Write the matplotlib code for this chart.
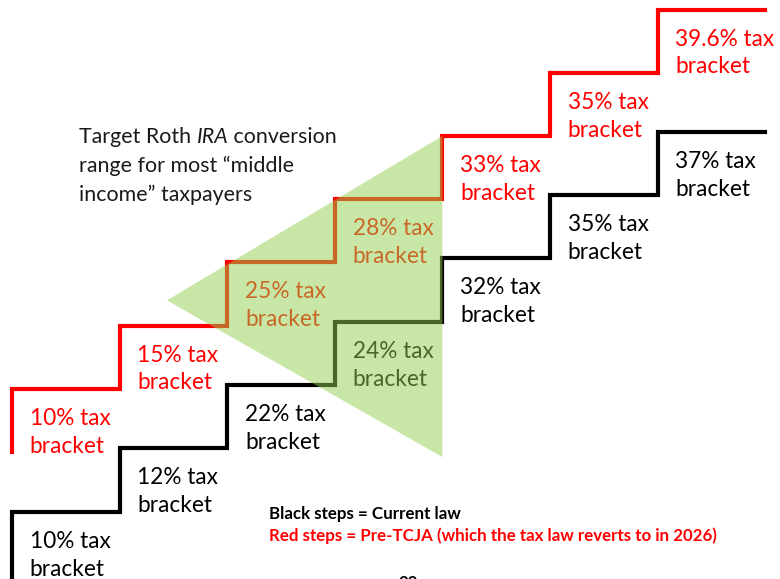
import matplotlib
matplotlib.use("Agg")

import matplotlib.pyplot as plt
import numpy as np
from matplotlib.patches import Polygon

plt.rcParams["font.family"] = ["Lato", "DejaVu Sans"]

# Bracket rates per stair step: pre-TCJA (red) and current law (black)
red_rates = ["10%", "15%", "25%", "28%", "33%", "35%", "39.6%"]
black_rates = ["10%", "12%", "22%", "24%", "32%", "35%", "37%"]

# Height of each step, in stair units (one step up = 1)
red_levels = [1.0, 2.0, 3.0, 4.0, 5.0, 6.0, 7.0]
black_levels = [-0.95, 0.06, 1.06, 2.06, 3.07, 4.07, 5.06]
red_base = 0.0
black_base = -2.3

# Shaded "target conversion range" triangle
range_x = [1.44, 4.0, 4.0]
range_y = [2.40, 5.0, -0.08]

title_lines = ["range for most \u201cmiddle", "income\u201d taxpayers"]
legend_lines = ["Black steps = Current law",
                "Red steps = Pre-TCJA (which the tax law reverts to in 2026)"]

RED = "#ff0000"
BLACK = "#000000"
LABEL_SIZE = 16.3
TITLE_SIZE = 15.4
NOTE_SIZE = 12.2


def stair_xy(levels, base):
    xs, ys = [0], [base]
    for i, lv in enumerate(levels):
        xs += [i, i + 1]
        ys += [lv, lv]
    return np.array(xs), np.array(ys)


fig = plt.figure(figsize=(7.8, 5.79), dpi=100)
ax = fig.add_axes([0, 0, 1, 1])
ax.set_xlim(-0.1115, 7.137)
ax.set_ylim(-2.009, 7.152)
ax.axis("off")

for levels, base, rates, color in [(red_levels, red_base, red_rates, RED),
                                   (black_levels, black_base, black_rates, BLACK)]:
    xs, ys = stair_xy(levels, base)
    ax.plot(xs, ys, color=color, lw=3.0, solid_joinstyle="miter", zorder=2)
    for i, (lv, rate) in enumerate(zip(levels, rates)):
        ax.text(i + 0.165, lv - 0.57, f"{rate} tax", color=color,
                fontsize=LABEL_SIZE, va="baseline", ha="left", zorder=2)
        ax.text(i + 0.165, lv - 1.01, "bracket", color=color,
                fontsize=LABEL_SIZE, va="baseline", ha="left", zorder=2)

ax.add_patch(Polygon(np.column_stack([range_x, range_y]), closed=True,
                     facecolor="#92d050", edgecolor="none", alpha=0.5, zorder=3))

# Title, with "IRA" set in italics
fig.canvas.draw()
x0, y0 = 0.623, 4.89
title_color = "#1a1a1a"
t = ax.text(x0, y0, "Target Roth ", fontsize=TITLE_SIZE, color=title_color,
            va="baseline", ha="left", zorder=4)
for piece, style in [("IRA", "italic"), (" conversion", "normal")]:
    t = ax.annotate(piece, xy=(1, 0), xycoords=t, fontsize=TITLE_SIZE,
                    color=title_color, style=style, va="bottom", ha="left",
                    zorder=4)
for k, line in enumerate(title_lines):
    ax.text(x0, y0 - 0.46 * (k + 1), line, fontsize=TITLE_SIZE,
            color=title_color, va="baseline", ha="left", zorder=4)

ax.text(2.39, -1.06, legend_lines[0], fontsize=NOTE_SIZE, fontweight="bold",
        color=BLACK, va="baseline", ha="left", zorder=4)
ax.text(2.39, -1.41, legend_lines[1], fontsize=NOTE_SIZE, fontweight="bold",
        color=RED, va="baseline", ha="left", zorder=4)

# slide number, running off the bottom edge
ax.text(3.59, -1.95, "28", fontsize=NOTE_SIZE, fontweight="bold", color=BLACK,
        va="top", ha="left", zorder=4)

fig.savefig("out.png", dpi=100)
